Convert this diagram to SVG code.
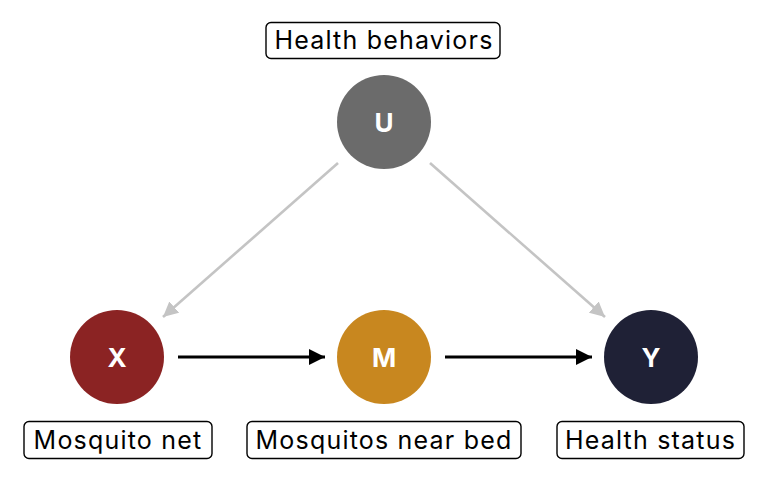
<svg xmlns="http://www.w3.org/2000/svg" width="768" height="480" viewBox="0 0 768 480">
<style>
.lbl{font-family:Inter,"Noto Sans","Liberation Sans",sans-serif;font-size:25px;letter-spacing:1.2px;fill:#000;text-anchor:middle}
.box{fill:#fff;stroke:#000;stroke-width:1.4}
.nt{font-family:Inter,"Liberation Sans",sans-serif;font-size:26px;font-weight:bold;fill:#fff;text-anchor:middle}
.g{stroke:#c4c4c4;stroke-width:2.6;fill:none}
.k{stroke:#000;stroke-width:3;fill:none}
</style>
<defs>
<marker id="ag" viewBox="0 0 10 10" refX="10" refY="5" markerWidth="15" markerHeight="15" markerUnits="userSpaceOnUse" orient="auto">
<path d="M0,0 L10,5 L0,10 Z" fill="#c4c4c4"/>
</marker>
<marker id="ak" viewBox="0 0 10 10" refX="10" refY="5" markerWidth="16" markerHeight="16" markerUnits="userSpaceOnUse" orient="auto">
<path d="M0,0 L10,5 L0,10 Z" fill="#000"/>
</marker>
</defs>
<rect width="768" height="480" fill="#fff"/>
<g id="connectors">
<line class="g" x1="338" y1="163" x2="163" y2="317" marker-end="url(#ag)"/>
<line class="g" x1="430" y1="163" x2="605" y2="317" marker-end="url(#ag)"/>
<line class="k" x1="178" y1="357" x2="325" y2="357" marker-end="url(#ak)"/>
<line class="k" x1="445" y1="357" x2="592" y2="357" marker-end="url(#ak)"/>
</g>
<g id="node-U">
<circle cx="384" cy="122" r="47" fill="#6b6b6b"/>
<text class="nt" x="384" y="131.5">U</text>
<rect class="box" x="266" y="22.5" width="234" height="36" rx="5"/>
<text class="lbl" x="384" y="49">Health behaviors</text>
</g>
<g id="node-X">
<circle cx="117" cy="357" r="47" fill="#8b2323"/>
<text class="nt" x="117" y="366.5">X</text>
<rect class="box" x="24" y="421.5" width="188" height="37" rx="5"/>
<text class="lbl" x="118" y="449">Mosquito net</text>
</g>
<g id="node-M">
<circle cx="384" cy="357" r="47" fill="#c8871f"/>
<text class="nt" x="384" y="366.5">M</text>
<rect class="box" x="247" y="421.5" width="274" height="37" rx="5"/>
<text class="lbl" x="384" y="449">Mosquitos near bed</text>
</g>
<g id="node-Y">
<circle cx="651" cy="357" r="47" fill="#1f2136"/>
<text class="nt" x="651" y="366.5">Y</text>
<rect class="box" x="557" y="421.5" width="187" height="37" rx="5"/>
<text class="lbl" x="650.5" y="449">Health status</text>
</g>
</svg>
